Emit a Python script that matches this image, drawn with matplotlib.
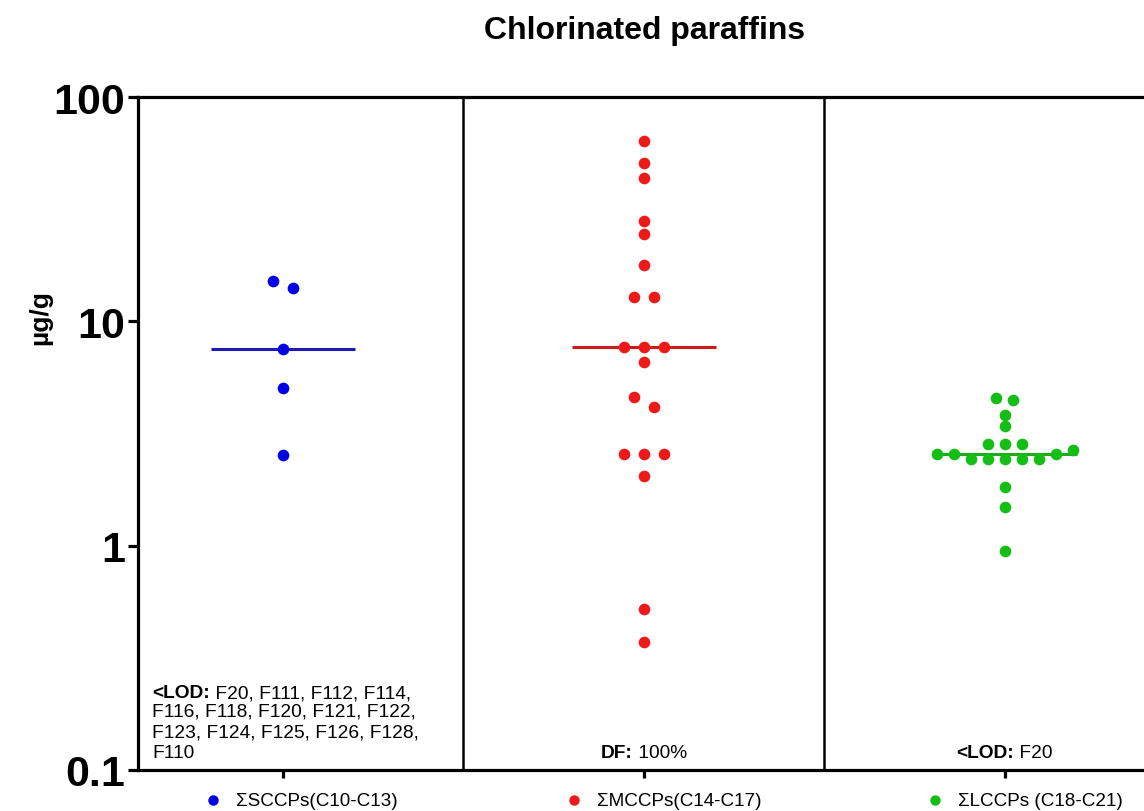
import numpy as np
import matplotlib.pyplot as plt
import matplotlib.transforms as mtransforms

plt.rcParams['font.family'] = ['Liberation Sans', 'DejaVu Sans']

# data (ug/g)
labels = ['ΣSCCPs(C10-C13)', 'ΣMCCPs(C14-C17)', 'ΣLCCPs (C18-C21)']
sccp = [15.1, 14.1, 7.52, 5.05, 2.54]
mccp = [63.7, 50.9, 43.4, 28.0, 24.5, 17.9, 12.8, 12.8, 7.65, 7.65, 7.65,
        6.56, 4.59, 4.17, 2.55, 2.55, 2.55, 2.05, 0.521, 0.372]
lccp = [4.56, 4.47, 3.84, 3.41, 2.84, 2.84, 2.84, 2.68, 2.57, 2.57, 2.57,
        2.43, 2.43, 2.43, 2.43, 2.43, 1.83, 1.48, 0.95]
series = [sccp, mccp, lccp]

dot_colors = ['#0000E6', '#EE1A1A', '#14BE14']
line_colors = ['#1C1CB4', '#CC1A1A', '#1EAA1E']
swarm_step = [20, 20, 17]   # horizontal spacing of dots, px

note_bold = ['<LOD:', 'DF:', '<LOD:']
note_first = [' F20, F111, F112, F114,', ' 100%', ' F20']
note_more = 'F116, F118, F120, F121, F122,\nF123, F124, F125, F126, F128,\nF110'
NOTE_FS = 13.8


def swarm_offsets(ax, x0, vals, step, dv=11.5):
    # simple beeswarm in pixel space, bottom-up, then centre touching clusters
    vals = np.asarray(vals, dtype=float)
    ys = ax.transData.transform(np.column_stack([np.full(len(vals), x0), vals]))[:, 1]
    cands = sorted([k * step / 2 for k in range(-30, 31)], key=lambda c: (abs(c), c))
    off = np.zeros(len(vals))
    done = []
    for i in np.argsort(ys):
        for c in cands:
            if all(((c - off[j]) / step) ** 2 + ((ys[i] - ys[j]) / dv) ** 2 >= 0.999 for j in done):
                break
        off[i] = c
        done.append(i)
    idx = np.argsort(ys)
    clusters = [[idx[0]]]
    for a, b in zip(idx[:-1], idx[1:]):
        if ys[b] - ys[a] < dv:
            clusters[-1].append(b)
        else:
            clusters.append([b])
    for cl in clusters:
        off[cl] -= off[cl].mean()
    return off


fig = plt.figure(figsize=(11.44, 8.12), dpi=100)
ax = fig.add_axes([0.1206, 0.0505, 0.8894, 0.8288])
ax.set_yscale('log')
ax.set_ylim(0.1, 100)
ax.set_xlim(-0.402, 2.418)

ppu = ax.transData.transform((1, 1))[0] - ax.transData.transform((0, 1))[0]

for i, vals in enumerate(series):
    off = swarm_offsets(ax, i, vals, swarm_step[i]) / ppu
    ax.plot(i + off, vals, 'o', color=dot_colors[i], ms=8.4, mew=0,
            zorder=3, clip_on=False)
    med = np.median(vals)
    ax.plot([i - 0.2, i + 0.2], [med, med], color=line_colors[i], lw=2.2,
            zorder=2, solid_capstyle='butt')

for xd in [0.5, 1.5]:
    ax.axvline(xd, color='black', lw=1.8, zorder=1)

for side in ['left', 'top', 'bottom']:
    ax.spines[side].set_linewidth(2.3)
ax.spines['right'].set_visible(False)

ax.set_yticks([0.1, 1, 10, 100])
ax.set_yticklabels(['0.1', '1', '10', '100'], fontsize=31, fontweight='bold')
ax.yaxis.set_minor_locator(plt.NullLocator())
ax.tick_params(axis='y', length=7.5, width=2.3, pad=2)
ax.set_xticks([0, 1, 2])
ax.set_xticklabels([])
ax.tick_params(axis='x', length=6, width=2.3)

trans = mtransforms.blended_transform_factory(ax.transData, ax.transAxes)

# category labels with dot markers
for i, lab in enumerate(labels):
    ax.plot([i - 0.194], [-0.045], 'o', color=dot_colors[i], ms=7.5, mew=0,
            transform=trans, clip_on=False)
    ax.text(i - 0.13, -0.045, lab, transform=trans, fontsize=13.6,
            va='center', ha='left')

# notes at the bottom of each panel
block = ax.text(-0.363, 0.013, note_more, transform=trans, fontsize=NOTE_FS,
                va='bottom', ha='left', linespacing=1.3)
head = ax.annotate(note_bold[0], xy=(0, 1), xycoords=block, xytext=(0, 1),
                   textcoords='offset points', fontsize=NOTE_FS,
                   fontweight='bold', va='bottom', ha='left')
ax.annotate(note_first[0], xy=(1, 0), xycoords=head, fontsize=NOTE_FS,
            va='bottom', ha='left')

centered = []
for i in [1, 2]:
    t1 = ax.text(i, 0.013, note_bold[i], transform=trans, fontsize=NOTE_FS,
                 fontweight='bold', va='bottom', ha='left')
    t2 = ax.annotate(note_first[i], xy=(1, 0), xycoords=t1, fontsize=NOTE_FS,
                     va='bottom', ha='left')
    centered.append((i, t1, t2))

fig.canvas.draw()
for i, t1, t2 in centered:
    w = t1.get_window_extent().width + t2.get_window_extent().width
    t1.set_position((i - w / 2 / ppu, 0.013))

fig.text(645 / 1144, 1 - 31 / 812, 'Chlorinated paraffins', fontsize=23,
         fontweight='bold', ha='center', va='center')
fig.text(40 / 1144, 1 - 318 / 812, 'µg/g', fontsize=19, fontweight='bold',
         rotation=90, ha='center', va='center')

fig.savefig('out.png', dpi=100)
